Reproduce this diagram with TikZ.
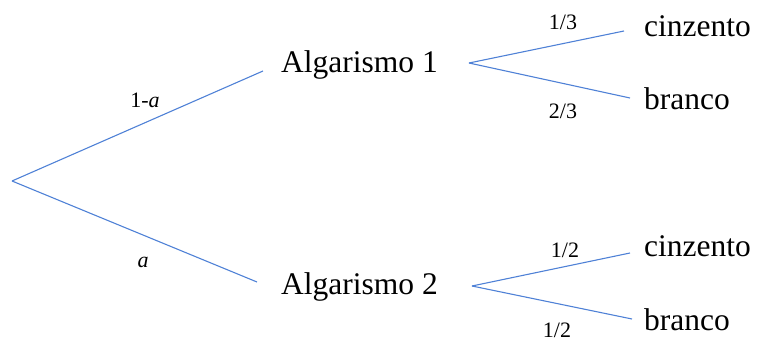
\documentclass[tikz,border=0pt]{standalone}
\usepackage{fontspec}
\setmainfont{Liberation Serif}
\definecolor{branchblue}{HTML}{4F81D6}
\begin{document}
\begin{tikzpicture}[x=1pt,y=-1pt,
  branch/.style={draw=branchblue,line width=1.1pt},
  big/.style={inner sep=0pt,anchor=base west,font=\fontsize{31.5}{37}\selectfont},
  prob/.style={inner sep=0pt,anchor=base,font=\fontsize{22}{26}\selectfont}]
\useasboundingbox (0,0) rectangle (757,342);
% branch points
\coordinate (root) at (12,181);
\coordinate (a1in) at (263,71);
\coordinate (a2in) at (257,282);
\coordinate (a1out) at (469,63);
\coordinate (a2out) at (472,286);
\coordinate (c1) at (624,31);
\coordinate (b1) at (630,98);
\coordinate (c2) at (630,253);
\coordinate (b2) at (632,319);
% texts
\node[big] (alg1) at (281,73) {Algarismo 1};
\node[big] (alg2) at (281,294) {Algarismo 2};
\node[big] (cin1) at (644,37) {cinzento};
\node[big] (bra1) at (644,110) {branco};
\node[big] (cin2) at (644,256) {cinzento};
\node[big] (bra2) at (644,330) {branco};
% connectors
\draw[branch] (root) -- (a1in);
\draw[branch] (root) -- (a2in);
\draw[branch] (a1out) -- (c1);
\draw[branch] (a1out) -- (b1);
\draw[branch] (a2out) -- (c2);
\draw[branch] (a2out) -- (b2);
% probabilities
\node[prob] (p1) at (145,108) {1-\textit{a}};
\node[prob] (p2) at (143,267) {\textit{a}};
\node[prob] (p3) at (563,30) {1/3};
\node[prob] (p4) at (563,118) {2/3};
\node[prob] (p5) at (565,257) {1/2};
\node[prob] (p6) at (557,337) {1/2};
\end{tikzpicture}
\end{document}
